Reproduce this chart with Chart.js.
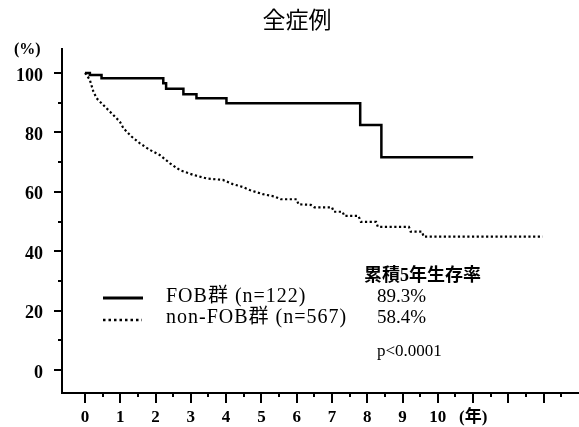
<!DOCTYPE html>
<html>
<head>
<meta charset="utf-8">
<script src="https://cdn.jsdelivr.net/npm/chart.js@4.4.1/dist/chart.umd.min.js"></script>
<style>
  html, body { margin: 0; padding: 0; background: #fff; }
  #wrap { width: 579px; height: 427px; }
</style>
</head>
<body>
<div id="wrap"><canvas id="kmChart" width="579" height="427"></canvas></div>
<script>
// Kaplan-Meier curves (years, cumulative survival %)
const fobYears    = [0, 0.14, 0.47, 2.22, 2.30, 2.79, 3.16, 4.01, 7.80, 8.40, 11.0];
const fobSurvival = [100, 99.3, 98.2, 96.5, 94.7, 92.8, 91.5, 89.8, 82.5, 71.6, 71.6];

const nonFobYears = [0, 0.04, 0.14, 0.24, 0.33, 0.52, 0.80, 0.99, 1.09, 1.32, 1.56, 1.84, 2.12, 2.41, 2.69,
  3.07, 3.45, 3.91, 4.19, 4.48, 4.67, 5.04, 5.38, 5.55, 6.00, 6.05, 6.40, 6.50, 7.00, 7.05, 7.30,
  7.35, 7.75, 7.82, 8.25, 8.30, 9.18, 9.23, 9.55, 9.60, 12.97];
const nonFobSurvival = [100, 99.5, 97.6, 93.7, 91.5, 89.2, 85.9, 83.6, 81.4, 78.6, 76.3, 74.1, 72.4, 69.6, 67.3,
  65.7, 64.5, 64.0, 62.6, 61.6, 60.6, 59.2, 58.4, 57.5, 57.5, 55.8, 55.6, 54.8, 54.8, 53.3, 53.3,
  51.9, 51.9, 49.9, 49.9, 48.2, 48.2, 46.6, 46.6, 44.9, 44.9];

const xTickValues = [0, 1, 2, 3, 4, 5, 6, 7, 8, 9, 10, 11, 12, 13];
const xTickLabels = ["0", "1", "2", "3", "4", "5", "6", "7", "8", "9", "10", "(年)", "", ""];
const yTickValues = [0, 20, 40, 60, 80, 100];
const yTickLabels = ["0", "20", "40", "60", "80", "100"];

const groupLabels = ["FOB群 (n=122)", "non-FOB群 (n=567)"];
const rateTitle = "累積5年生存率";
const fiveYearRates = ["89.3%", "58.4%"];
const pValue = "p<0.0001";

const serifBold = 'bold 18px "Liberation Serif", "Noto Sans CJK JP"';

const toPoints = (xs, ys) => xs.map((x, i) => ({ x: x, y: ys[i] }));

const axesPlugin = {
  id: "axesPlugin",
  afterDraw(chart) {
    const ctx = chart.ctx;
    const area = chart.chartArea;
    const xs = chart.scales.x;
    const ys = chart.scales.y;
    ctx.save();
    ctx.strokeStyle = "#000";
    ctx.fillStyle = "#000";
    ctx.lineWidth = 2;

    // axis lines
    ctx.beginPath();
    ctx.moveTo(area.left, area.top);
    ctx.lineTo(area.left, area.bottom);
    ctx.lineTo(area.right, area.bottom);
    ctx.stroke();

    // y ticks (major every 20, minor every 10)
    for (let v = 0; v <= 100; v += 10) {
      const y = Math.round(ys.getPixelForValue(v));
      const len = v % 20 === 0 ? 8 : 4;
      ctx.beginPath();
      ctx.moveTo(area.left, y);
      ctx.lineTo(area.left - len, y);
      ctx.stroke();
    }
    // x ticks (major every year, minor every half year)
    for (let t = 0; t <= 13.5; t += 0.5) {
      const x = Math.round(xs.getPixelForValue(t));
      const len = t % 1 === 0 ? 10 : 4;
      ctx.beginPath();
      ctx.moveTo(x, area.bottom);
      ctx.lineTo(x, area.bottom + len);
      ctx.stroke();
    }

    // tick labels
    ctx.font = serifBold;
    ctx.textAlign = "right";
    ctx.textBaseline = "middle";
    yTickValues.forEach((v, i) => {
      ctx.fillText(yTickLabels[i], 43, ys.getPixelForValue(v) + 3);
    });
    ctx.font = 'bold 17px "Liberation Serif", "Noto Sans CJK JP"';
    ctx.textAlign = "center";
    xTickValues.forEach((v, i) => {
      if (xTickLabels[i]) ctx.fillText(xTickLabels[i], xs.getPixelForValue(v), 418);
    });
    ctx.textAlign = "left";
    ctx.font = 'bold 16px "Liberation Serif"';
    ctx.fillText("(%)", 14, 50);

    // title
    ctx.font = '23px "Noto Sans CJK JP"';
    ctx.textAlign = "center";
    ctx.fillText("全症例", 297, 19);

    // legend
    ctx.lineWidth = 3;
    ctx.beginPath();
    ctx.moveTo(103, 298);
    ctx.lineTo(143, 298);
    ctx.stroke();
    ctx.lineWidth = 2.5;
    ctx.setLineDash([2.5, 3]);
    ctx.beginPath();
    ctx.moveTo(103, 320);
    ctx.lineTo(142, 320);
    ctx.stroke();
    ctx.setLineDash([]);

    ctx.textAlign = "left";
    ctx.font = '20px "Liberation Serif", "Noto Sans CJK JP"';
    ctx.letterSpacing = "1px";
    ctx.fillText(groupLabels[0], 166, 297);
    ctx.fillText(groupLabels[1], 166, 318);
    ctx.letterSpacing = "0px";

    // five-year survival annotation
    ctx.font = 'bold 18px "Liberation Serif", "Noto Sans CJK JP"';
    ctx.fillText(rateTitle, 364, 276);
    ctx.font = '19px "Liberation Serif"';
    ctx.fillText(fiveYearRates[0], 377, 297);
    ctx.fillText(fiveYearRates[1], 377, 318);
    ctx.font = '17px "Liberation Serif"';
    ctx.fillText(pValue, 377, 352);
    ctx.restore();
  }
};

new Chart(document.getElementById("kmChart"), {
  type: "line",
  data: {
    datasets: [
      {
        label: groupLabels[0],
        data: toPoints(fobYears, fobSurvival),
        borderColor: "#000",
        borderWidth: 2.5,
        stepped: true,
        pointRadius: 0,
        fill: false
      },
      {
        label: groupLabels[1],
        data: toPoints(nonFobYears, nonFobSurvival),
        borderColor: "#000",
        borderWidth: 2.2,
        borderDash: [2.2, 2.5],
        tension: 0,
        pointRadius: 0,
        fill: false
      }
    ]
  },
  options: {
    responsive: false,
    animation: false,
    devicePixelRatio: 1,
    layout: { padding: { left: 62, right: 0, top: 48, bottom: 34 } },
    scales: {
      x: { type: "linear", min: -0.65, max: 14.0, display: false },
      y: { type: "linear", min: -7.7, max: 108.4, display: false }
    },
    plugins: {
      legend: { display: false },
      tooltip: { enabled: false },
      title: { display: false }
    }
  },
  plugins: [axesPlugin]
});
</script>
</body>
</html>
